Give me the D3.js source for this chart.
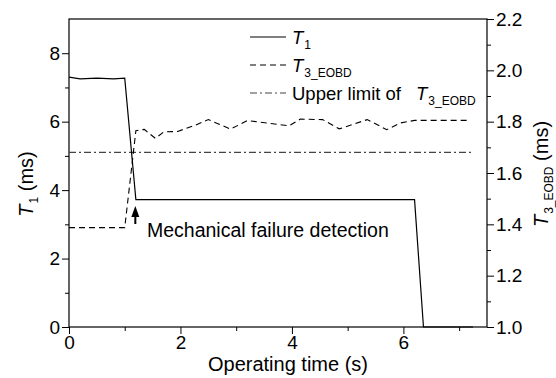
<!DOCTYPE html>
<html>
<head>
<meta charset="utf-8">
<script src="https://cdn.jsdelivr.net/npm/d3@7"></script>
<style>
  body { margin: 0; background: #fff; }
  text { font-family: "Liberation Sans", Arial, sans-serif; fill: #000; }
</style>
</head>
<body>
<svg id="chart" width="556" height="378"></svg>
<script>
// T1 (left axis, ms)
const t1Time = [0, 0.2, 0.5, 0.8, 1.0, 1.2, 6.2, 6.36, 7.25];
const t1Val  = [7.30, 7.25, 7.27, 7.25, 7.27, 3.72, 3.72, 0, 0];

// T3_EOBD (right axis, ms)
const t3Time = [0, 1.0, 1.2, 1.35, 1.55, 1.7, 1.95, 2.25, 2.5, 2.9, 3.2, 3.55, 3.95, 4.15, 4.55, 4.85, 5.35, 5.7, 5.95, 6.2, 6.5, 6.8, 7.15];
const t3Val  = [1.387, 1.387, 1.765, 1.77, 1.735, 1.76, 1.762, 1.785, 1.808, 1.771, 1.804, 1.795, 1.784, 1.81, 1.808, 1.772, 1.808, 1.769, 1.795, 1.805, 1.805, 1.805, 1.805];

// upper limit of T3_EOBD
const limitTime = [0, 7.25];
const limitVal  = [1.68, 1.68];

const xTicks = [0, 2, 4, 6], xMinor = [1, 3, 5, 7];
const yTicks = [0, 2, 4, 6, 8], yMinor = [1, 3, 5, 7];
const y2Ticks = [1.0, 1.2, 1.4, 1.6, 1.8, 2.0, 2.2], y2Minor = [1.1, 1.3, 1.5, 1.7, 1.9, 2.1];

const margin = {top: 19, left: 69, right: 69, bottom: 51};
const W = 556, H = 378;
const w = W - margin.left - margin.right;
const h = H - margin.top - margin.bottom;

const svg = d3.select('#chart');
const g = svg.append('g').attr('transform', `translate(${margin.left},${margin.top})`);

const x = d3.scaleLinear().domain([0, 7.5]).range([0, w]);
const y = d3.scaleLinear().domain([0, 9]).range([h, 0]);
const y2 = d3.scaleLinear().domain([1.0, 2.2]).range([h, 0]);

function styleAxis(sel) {
  sel.select('.domain').remove();
  sel.selectAll('line').attr('stroke', '#000').attr('stroke-width', 1);
  sel.selectAll('text').style('font-size', '19px').style('font-family', '"Liberation Sans", Arial, sans-serif');
}

// axes
g.append('g').attr('transform', `translate(0,${h})`)
  .call(d3.axisBottom(x).tickValues(xTicks).tickSize(7).tickPadding(2).tickFormat(d3.format('d')))
  .call(styleAxis);
g.append('g').attr('transform', `translate(0,${h})`)
  .call(d3.axisBottom(x).tickValues(xMinor).tickSize(4).tickFormat(''))
  .call(styleAxis);

g.append('g')
  .call(d3.axisLeft(y).tickValues(yTicks).tickSize(7).tickPadding(2).tickFormat(d3.format('d')))
  .call(styleAxis);
g.append('g')
  .call(d3.axisLeft(y).tickValues(yMinor).tickSize(4).tickFormat(''))
  .call(styleAxis);

g.append('g').attr('transform', `translate(${w},0)`)
  .call(d3.axisRight(y2).tickValues(y2Ticks).tickSize(7).tickPadding(2).tickFormat(d3.format('.1f')))
  .call(styleAxis);
g.append('g').attr('transform', `translate(${w},0)`)
  .call(d3.axisRight(y2).tickValues(y2Minor).tickSize(4).tickFormat(''))
  .call(styleAxis);

// frame
g.append('rect').attr('width', w).attr('height', h)
  .attr('fill', 'none').attr('stroke', '#000').attr('stroke-width', 1.2);

// series
const lineT1 = d3.line().x(i => x(t1Time[i])).y(i => y(t1Val[i]));
const lineT3 = d3.line().x(i => x(t3Time[i])).y(i => y2(t3Val[i]));
const lineLim = d3.line().x(i => x(limitTime[i])).y(i => y2(limitVal[i]));

g.append('path').attr('d', lineLim(d3.range(limitTime.length)))
  .attr('fill', 'none').attr('stroke', '#444').attr('stroke-width', 1.2)
  .attr('stroke-dasharray', '7,3,2,3');
g.append('path').attr('d', lineT3(d3.range(t3Time.length)))
  .attr('fill', 'none').attr('stroke', '#000').attr('stroke-width', 1.1)
  .attr('stroke-dasharray', '6,4');
g.append('path').attr('d', lineT1(d3.range(t1Time.length)))
  .attr('fill', 'none').attr('stroke', '#000').attr('stroke-width', 1.2);

// annotation arrow
const ax = x(1.19);
g.append('line').attr('x1', ax).attr('x2', ax).attr('y1', 205).attr('y2', 194)
  .attr('stroke', '#000').attr('stroke-width', 2);
g.append('path')
  .attr('d', `M${ax},${187}L${ax - 4},${198}L${ax + 4},${198}Z`)
  .attr('fill', '#000');
g.append('text').attr('x', 78).attr('y', 218).style('font-size', '19.5px')
  .text('Mechanical failure detection');

// legend
function subLabel(sel, main, sub, prefix, subSize) {
  if (prefix) sel.append('tspan').text(prefix);
  sel.append('tspan').attr('dx', prefix ? 15 : 0).style('font-style', 'italic').text(main);
  sel.append('tspan').attr('dy', 5).attr('dx', 1).style('font-size', subSize || '12px').text(sub);
}
const legend = [
  {dash: null, color: '#000', prefix: null, sub: '1'},
  {dash: '6,4', color: '#000', prefix: null, sub: '3_EOBD'},
  {dash: '7,3,2,3', color: '#444', prefix: 'Upper limit of', sub: '3_EOBD'}
];
legend.forEach((d, i) => {
  const ly = 18 + i * 28;
  g.append('line').attr('x1', 181).attr('x2', 217).attr('y1', ly).attr('y2', ly)
    .attr('stroke', d.color).attr('stroke-width', 1.2)
    .attr('stroke-dasharray', d.dash);
  const t = g.append('text').attr('x', 223).attr('y', ly + 7).style('font-size', '18.5px');
  subLabel(t, 'T', d.sub, d.prefix);
});

// axis titles
svg.append('text').attr('x', margin.left + w / 2 + 10).attr('y', 371)
  .attr('text-anchor', 'middle').style('font-size', '20px').text('Operating time (s)');

const lt = svg.append('text').attr('transform', 'translate(33,184) rotate(-90)')
  .attr('text-anchor', 'middle').style('font-size', '20px');
subLabel(lt, 'T', '1');
lt.append('tspan').attr('dy', -5).text(' (ms)');

const rt = svg.append('text').attr('transform', 'translate(548,174) rotate(-90)')
  .attr('text-anchor', 'middle').style('font-size', '20px');
subLabel(rt, 'T', '3_EOBD');
rt.append('tspan').attr('dy', -5).text(' (ms)');
</script>
</body>
</html>
